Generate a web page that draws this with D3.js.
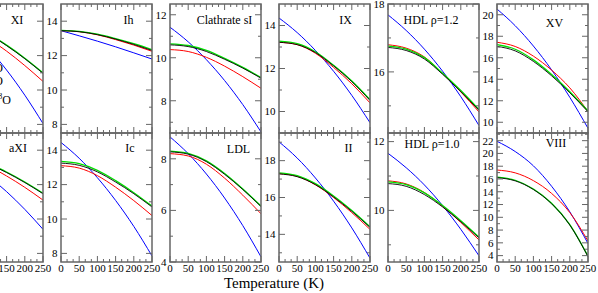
<!DOCTYPE html>
<html><head><meta charset="utf-8">
<script src="https://cdn.jsdelivr.net/npm/d3@7"></script>
<style>body{margin:0;background:#fff}svg{display:block}text{font-family:"Liberation Serif","Times New Roman",serif;fill:#000}</style>
</head><body><svg id="c" width="598" height="293"></svg>
<script>
const temps = [0, 50, 100, 150, 200, 250];
const xTickValues = [0, 50, 100, 150, 200, 250];
const titles = ["XI", "Ih", "Clathrate sI", "IX", "HDL \u03C1=1.2", "XV",
                "aXI", "Ic", "LDL", "II", "HDL \u03C1=1.0", "VIII"];
const yDomains = [[7.5, 15], [7.5, 15], [6.5, 12.5], [9, 15], [14.2, 18], [9, 21],
                  [7.5, 15], [7.5, 15], [4, 9], [12.5, 19.5], [8.5, 12.25], [3, 23.2]];
const yMajor = [[8, 10, 12, 14], [8, 10, 12, 14], [8, 10, 12], [10, 12, 14], [16, 18], [10, 12, 14, 16, 18, 20],
                [8, 10, 12, 14], [8, 10, 12, 14], [4, 6, 8], [14, 16, 18], [10, 12], [4, 6, 8, 10, 12, 14, 16, 18, 20, 22]];
const yMinor = [[9, 11, 13], [9, 11, 13], [7, 9, 11], [11, 13], [15, 17], [11, 13, 15, 17, 19],
                [9, 11, 13], [9, 11, 13], [5, 7], [13, 15, 17, 19], [9, 11], [5, 7, 9, 11, 13, 15, 17, 19, 21, 23]];

const blackSeries = [
  [13.8, 13.66, 13.23, 12.58, 11.82, 10.97],
  [13.45, 13.39, 13.22, 12.96, 12.65, 12.3],
  [10.6, 10.52, 10.29, 9.93, 9.52, 9.05],
  [13.22, 13.11, 12.74, 12.12, 11.39, 10.52],
  [16.72, 16.63, 16.38, 15.93, 15.42, 14.87],
  [17.06, 16.64, 15.66, 14.32, 12.74, 10.98],
  [13.62, 13.51, 13.19, 12.70, 12.12, 11.47],
  [13.25, 13.12, 12.74, 12.15, 11.47, 10.7],
  [8.27, 8.18, 7.89, 7.40, 6.81, 6.15],
  [17.28, 17.13, 16.70, 16.03, 15.25, 14.38],
  [10.78, 10.70, 10.46, 10.10, 9.67, 9.20],
  [16.2, 15.71, 14.35, 12.12, 8.79, 3.85]
];
const greenSeries = [
  [13.83, 13.69, 13.26, 12.61, 11.85, 11.0],
  [13.47, 13.41, 13.25, 12.99, 12.69, 12.35],
  [10.65, 10.57, 10.34, 9.97, 9.55, 9.08],
  [13.27, 13.16, 12.78, 12.15, 11.42, 10.55],
  [16.76, 16.67, 16.42, 15.96, 15.45, 14.89],
  [17.22, 16.79, 15.80, 14.44, 12.84, 11.05],
  [13.65, 13.54, 13.22, 12.73, 12.15, 11.5],
  [13.35, 13.22, 12.83, 12.23, 11.53, 10.75],
  [8.3, 8.21, 7.92, 7.43, 6.83, 6.17],
  [17.34, 17.19, 16.75, 16.08, 15.29, 14.41],
  [10.83, 10.75, 10.51, 10.14, 9.70, 9.22],
  [16.3, 15.8, 14.44, 12.21, 8.86, 3.9]
];
const redSeries = [
  [13.58, 13.43, 12.96, 12.26, 11.42, 10.5],
  [13.45, 13.39, 13.21, 12.93, 12.61, 12.25],
  [10.38, 10.29, 10.02, 9.61, 9.12, 8.58],
  [13.22, 13.11, 12.71, 12.05, 11.29, 10.4],
  [16.80, 16.70, 16.44, 15.95, 15.41, 14.82],
  [17.44, 17.05, 16.15, 14.85, 13.2, 11.0],
  [13.56, 13.44, 13.07, 12.50, 11.84, 11.1],
  [13.1, 12.96, 12.52, 11.85, 11.07, 10.2],
  [8.2, 8.11, 7.79, 7.25, 6.59, 5.87],
  [17.30, 17.15, 16.69, 16.0, 15.18, 14.27],
  [10.86, 10.77, 10.52, 10.12, 9.65, 9.14],
  [17.4, 16.96, 15.74, 13.74, 10.74, 6.3]
];
const blueSeries = [
  [14.39, 13.50, 12.42, 11.16, 9.70, 8.05],
  [13.45, 13.15, 12.84, 12.51, 12.16, 11.8],
  [11.42, 10.74, 9.91, 8.94, 7.82, 6.55],
  [14.35, 13.67, 12.84, 11.87, 10.75, 9.48],
  [17.68, 17.22, 16.67, 16.02, 15.27, 14.42],
  [20.53, 18.98, 17.09, 14.87, 12.32, 9.44],
  [13.86, 13.24, 12.48, 11.59, 10.56, 9.4],
  [14.45, 13.53, 12.40, 11.08, 9.57, 7.85],
  [8.85, 8.20, 7.41, 6.48, 5.41, 4.2],
  [19.02, 18.14, 17.06, 15.80, 14.35, 12.71],
  [11.66, 11.24, 10.74, 10.14, 9.45, 8.68],
  [21.9, 20.3, 18.06, 14.86, 10.86, 5.9]
];
const legendLabels = [["H", "2", "", "O"], ["D", "2", "", "O"], ["H", "2", "18", "O"]];

// layout (styling only)
const panelW = 91, panelH = 129, colStep = 109, x0 = -48, y0 = 4;
const titleDX = [65, 67.5, 54.5, 66.5, 43, 57.5, 66, 69, 68.5, 69.5, 44, 59];
const titleY = [24, 24, 24, 24, 24, 27, 152, 152, 153, 152, 148, 147];
const seriesStyle = [
  {data: blueSeries, color: "#0000ff", w: 1},
  {data: redSeries, color: "#ff0000", w: 1},
  {data: greenSeries, color: "#00e000", w: 1.3},
  {data: blackSeries, color: "#000000", w: 0.9}
];

const svg = d3.select("#c");
const frameColor = "#666";

titles.forEach((title, i) => {
  const row = Math.floor(i / 6), col = i % 6;
  const left = x0 + col * colStep, top = y0 + row * panelH;
  const x = d3.scaleLinear().domain([0, 250]).range([left, left + panelW]);
  const y = d3.scaleLinear().domain(yDomains[i]).range([top + panelH, top]);
  const g = svg.append("g");
  const clipId = "clip" + i;
  svg.append("clipPath").attr("id", clipId).append("rect")
    .attr("x", left).attr("y", top).attr("width", panelW).attr("height", panelH);

  const line = d3.line().x((d, k) => x(temps[k])).y(d => y(d)).curve(d3.curveMonotoneX);
  const lg = g.append("g").attr("clip-path", `url(#${clipId})`);
  seriesStyle.forEach(s => {
    lg.append("path").attr("d", line(s.data[i])).attr("fill", "none")
      .attr("stroke", s.color).attr("stroke-width", s.w);
  });

  // frame
  g.append("rect").attr("x", left).attr("y", top).attr("width", panelW).attr("height", panelH)
    .attr("fill", "none").attr("stroke", frameColor).attr("stroke-width", 1.5);

  // y ticks (inward, both sides)
  const tk = g.append("g").attr("stroke", frameColor).attr("stroke-width", 1);
  yMajor[i].forEach(v => {
    tk.append("line").attr("x1", left).attr("x2", left + 6).attr("y1", y(v)).attr("y2", y(v));
    tk.append("line").attr("x1", left + panelW).attr("x2", left + panelW - 6).attr("y1", y(v)).attr("y2", y(v));
  });
  yMinor[i].filter(v => v < yDomains[i][1]).forEach(v => {
    tk.append("line").attr("x1", left).attr("x2", left + 3).attr("y1", y(v)).attr("y2", y(v));
    tk.append("line").attr("x1", left + panelW).attr("x2", left + panelW - 3).attr("y1", y(v)).attr("y2", y(v));
  });
  // x ticks (inward, top and bottom)
  const xMinor = d3.range(0, 250.01, 50 / 3);
  xMinor.forEach((v, k) => {
    const len = (k % 3 === 0) ? 6 : 3;
    tk.append("line").attr("x1", x(v)).attr("x2", x(v)).attr("y1", top + panelH).attr("y2", top + panelH - len);
    tk.append("line").attr("x1", x(v)).attr("x2", x(v)).attr("y1", top).attr("y2", top + len);
  });

  // y tick labels (skipped when wholly outside the window)
  if (left - 3.5 > 0) {
    g.selectAll(null).data(yMajor[i]).enter().append("text")
      .attr("x", left - 3.5).attr("y", d => y(d)).attr("dy", "0.35em")
      .attr("text-anchor", "end").attr("font-size", 11).text(d => d);
  }

  // x tick labels (bottom row)
  if (row === 1) {
    g.selectAll(null).data(xTickValues.filter(d => x(d) > 0)).enter().append("text")
      .attr("x", d => x(d)).attr("y", 272).attr("text-anchor", "middle")
      .attr("font-size", 11).text(d => d);
  }

  // title
  g.append("text").attr("x", left + titleDX[i]).attr("y", titleY[i])
    .attr("text-anchor", "middle").attr("font-size", 12).text(title);
});

// legend (partially off-canvas, as in the reference)
const legY = [72, 85, 104];
legendLabels.forEach((parts, k) => {
  const t = svg.append("text").attr("x", -18.5).attr("y", legY[k]).attr("font-size", 12);
  t.append("tspan").text(parts[0]);
  t.append("tspan").attr("font-size", 8).attr("dy", 3).text(parts[1]);
  if (parts[2]) t.append("tspan").attr("font-size", 8).attr("dy", -8).text(parts[2]);
  t.append("tspan").attr("font-size", 12).attr("dy", parts[2] ? 5 : -3).text(parts[3]);
});

svg.append("text").attr("x", 274).attr("y", 288).attr("text-anchor", "middle")
  .attr("font-size", 15).text("Temperature (K)");
</script></body></html>
